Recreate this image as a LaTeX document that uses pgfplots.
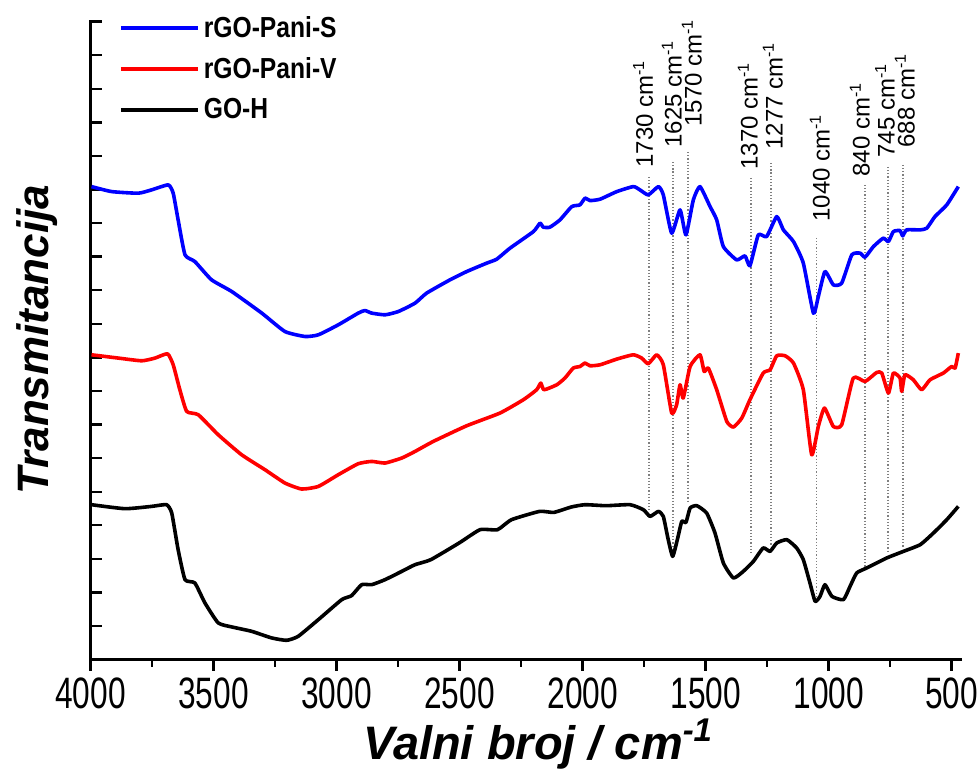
\documentclass[border=0pt]{standalone}
\usepackage{fontspec}
\setmainfont{Liberation Sans}
\newfontfamily\ticksans[FakeStretch=0.72]{Liberation Sans}
\newfontfamily\legsans[FakeStretch=0.85]{Liberation Sans}
\usepackage{pgfplots}
\pgfplotsset{compat=1.18}
\usetikzlibrary{calc}

\definecolor{specblue}{RGB}{0,0,255}
\definecolor{specred}{RGB}{255,0,0}

\begin{document}
\begin{tikzpicture}
\begin{axis}[
    scale only axis,
    width=436pt, height=320pt,
    x dir=reverse,
    xmin=458, xmax=4000,
    ymin=0, ymax=640,
    axis x line*=bottom, axis y line*=left,
    axis line style={line width=1.2pt},
    xtick={500,1000,1500,2000,2500,3000,3500,4000},
    xticklabels={500,1000,1500,2000,2500,3000,3500,4000},
    minor xtick={750,1250,1750,2250,2750,3250,3750},
    ytick={33.6,67.2,100.8,134.4,168,201.6,235.2,268.8,302.4,336,369.6,403.2,436.8,470.4,504,537.6,571.2,604.8,638.4},
    yticklabels={},
    xtick align=outside, ytick align=inside,
    major tick length=5.5pt, minor tick length=3.5pt,
    tick style={line width=1.2pt, black},
    xticklabel style={font=\ticksans\fontsize{22}{22}\selectfont},
    xlabel={\bfseries\itshape Valni broj / cm\textsuperscript{-1}},
    xlabel style={font=\fontsize{23.5}{23.5}\selectfont, yshift=2pt, xshift=6pt},
    ylabel={\bfseries\itshape Transmitancija},
    ylabel style={font=\fontsize{22}{22}\selectfont, yshift=6pt},
    legend style={at={(rel axis cs:0,1)}, anchor=north west, xshift=14pt, yshift=4pt,
        draw=none, fill=none, font=\legsans\bfseries\fontsize{14.5}{14.5}\selectfont,
        row sep=4.5pt, inner sep=0pt},
    legend cell align=left,
    legend image code/.code={\draw[#1, line width=2pt] (0pt,0pt) -- (38.5pt,0pt);},
    every axis plot/.append style={line join=round, smooth, tension=0.3},
]

% peak markers
\draw[densely dotted, gray, line width=0.6pt] (axis cs:1730,483) -- (axis cs:1730,150);
\draw[densely dotted, gray, line width=0.6pt] (axis cs:1633,498) -- (axis cs:1633,110);
\draw[densely dotted, gray, line width=0.6pt] (axis cs:1572,508) -- (axis cs:1572,157);
\draw[densely dotted, gray, line width=0.6pt] (axis cs:1316,482) -- (axis cs:1316,107);
\draw[densely dotted, gray, line width=0.6pt] (axis cs:1234,497) -- (axis cs:1234,113);
\draw[densely dotted, gray, line width=0.6pt] (axis cs:1051,422) -- (axis cs:1051,63);
\draw[densely dotted, gray, line width=0.6pt] (axis cs:852,475) -- (axis cs:852,93);
\draw[densely dotted, gray, line width=0.6pt] (axis cs:759,493) -- (axis cs:759,108);
\draw[densely dotted, gray, line width=0.6pt] (axis cs:698,495) -- (axis cs:698,113);

\addplot[specblue, line width=1.8pt] coordinates {
(3996,473.3) (3914,468.3) (3806,466.7) (3752,470) (3684,475) (3664,466.7)
(3644,440) (3616,405) (3576,398.3) (3508,380) (3426,368.3) (3304,346.7)
(3210,328.3) (3128,323.3) (3074,325) (2993,335) (2912,346.7) (2885,349.3)
(2857,346.7) (2803,345) (2749,348.3) (2681,356.7) (2634,366.7) (2539,380)
(2471,388.3) (2390,396.7) (2349,400.7) (2295,411.7) (2200,428.3) (2173,436.7)
(2160,432.7) (2133,432.7) (2092,440) (2044,453.3) (2011,455) (1990,461.7)
(1970,459.3) (1929,460.7) (1861,468.3) (1794,473.3) (1767,470) (1733,465)
(1692,473.3) (1672,465) (1638,426.7) (1604,450) (1580,425) (1550,460)
(1523,473.3) (1482,453.3) (1455,440) (1428,413.3) (1374,400) (1340,404)
(1320,394) (1286,425) (1252,423.3) (1211,443.3) (1184,430) (1143,418.3)
(1103,396.7) (1062,346.7) (1042,363.3) (1015,388.3) (981,375) (947,376.7)
(906,405) (872,406.7) (852,402.7) (818,413.3) (778,421.7) (757,418.3)
(737,428.3) (710,429.3) (699,424) (683,430) (628,430) (601,431.7)
(568,443.3) (520,455) (473,473.3)
};
\addlegendentry{rGO-Pani-S}

\addplot[specred, line width=1.8pt] coordinates {
(3996,305) (3887,301.7) (3792,299) (3738,301.7) (3687,306) (3664,295)
(3637,270) (3609,248.3) (3562,245) (3481,225) (3386,205) (3291,190)
(3210,176.7) (3142,170.7) (3074,173.3) (2993,185) (2912,196) (2857,198.3)
(2803,196.7) (2735,201.7) (2681,208.3) (2607,218.3) (2471,234) (2336,246.7)
(2241,260) (2187,270) (2170,276.7) (2157,270) (2105,275) (2072,281.7)
(2038,291.7) (2011,293.3) (1990,296.7) (1970,294) (1929,295) (1861,300.7)
(1794,305) (1760,301.7) (1733,296) (1699,305) (1672,295) (1638,246.7)
(1618,255) (1604,275) (1591,261.7) (1563,293.3) (1523,305) (1506,288.3)
(1489,291.7) (1455,270) (1414,238.3) (1387,232.7) (1353,241.7) (1320,260)
(1266,286.7) (1238,290) (1211,304) (1177,304) (1143,296.7) (1103,270)
(1069,205) (1042,233.3) (1017,251.7) (981,233.3) (947,235) (900,281.7)
(852,278.3) (805,287.3) (784,286.7) (757,266.7) (737,286.7) (710,281.7)
(703,268.3) (690,285) (656,280) (622,270) (588,280) (534,286.7)
(500,293.3) (486,291.7) (473,306.7)
};
\addlegendentry{rGO-Pani-V}

\addplot[black, line width=1.8pt] coordinates {
(3996,155) (3860,151) (3752,153.3) (3691,155) (3670,146.7) (3644,110)
(3616,80) (3576,76.7) (3535,56.7) (3481,36.7) (3426,32.7) (3345,28.3)
(3264,21.7) (3203,19.3) (3156,23.3) (3074,40) (2979,60) (2939,64)
(2898,75) (2857,75) (2803,80) (2735,88.3) (2681,95) (2617,100)
(2502,116.7) (2417,130) (2346,130) (2289,140) (2175,148.3) (2117,147.3)
(2046,152.7) (1990,155) (1905,154) (1807,155) (1753,150) (1726,143.3)
(1692,148.3) (1672,143.3) (1652,120) (1634,103.3) (1615,120) (1597,138.3)
(1580,137.3) (1563,151.7) (1536,154) (1496,146.7) (1462,126.7) (1428,96.7)
(1387,81.7) (1347,88.3) (1306,98.3) (1266,111.7) (1238,108.3) (1211,116.7)
(1170,120) (1130,111.7) (1103,100) (1076,76.7) (1055,58.3) (1035,63.3)
(1015,75) (987,63.3) (940,60) (913,73.3) (886,86.7) (845,91.7)
(764,101.7) (696,108.3) (628,115) (574,126.7) (520,140) (473,153.3)
};
\addlegendentry{GO-H}

% peak labels
\begin{scope}[every node/.style={rotate=90, anchor=west, inner sep=0pt, font=\fontsize{12}{12}\selectfont}]
\node at (axis cs:1754,492) {1730 cm\textsuperscript{-1}};
\node at (axis cs:1637,512) {1625 cm\textsuperscript{-1}};
\node at (axis cs:1556,533) {1570 cm\textsuperscript{-1}};
\node at (axis cs:1328,490) {1370 cm\textsuperscript{-1}};
\node at (axis cs:1227,510) {1277 cm\textsuperscript{-1}};
\node at (axis cs:1036,438) {1040 cm\textsuperscript{-1}};
\node at (axis cs:873,483) {840 cm\textsuperscript{-1}};
\node at (axis cs:771,502) {745 cm\textsuperscript{-1}};
\node at (axis cs:690,512) {688 cm\textsuperscript{-1}};
\end{scope}
\end{axis}
\pgfresetboundingbox
\useasboundingbox ($(current axis.south west)+(-45.3pt,-56.5pt)$) rectangle ($(current axis.north east)+(7.5pt,10pt)$);
\end{tikzpicture}
\end{document}
